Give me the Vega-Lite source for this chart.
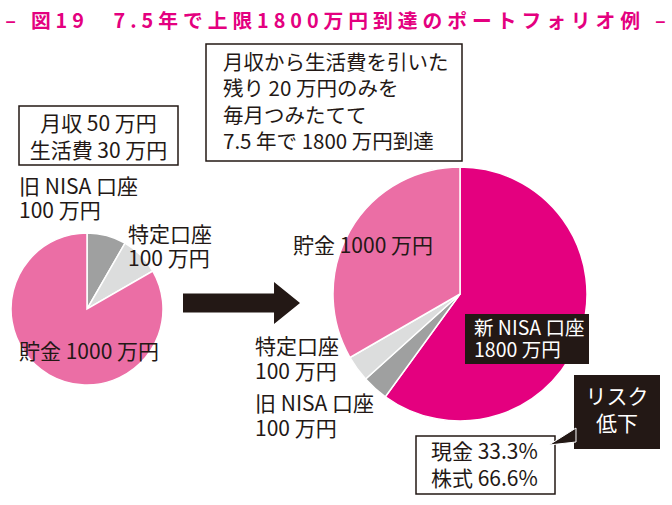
{
  "$schema": "https://vega.github.io/schema/vega-lite/v6.json",
  "width": 672,
  "height": 505,
  "padding": 0,
  "autosize": {"type": "fit", "contains": "padding"},
  "background": "white",
  "config": {"view": {"stroke": null}, "font": "Noto Sans CJK JP"},
  "datasets": {
    "pies": [
      {"pie": "before", "category": "旧NISA口座", "value": 100, "order": 1},
      {"pie": "before", "category": "特定口座", "value": 100, "order": 2},
      {"pie": "before", "category": "貯金", "value": 1000, "order": 3},
      {"pie": "after", "category": "新NISA口座", "value": 1800, "order": 1},
      {"pie": "after", "category": "旧NISA口座", "value": 100, "order": 2},
      {"pie": "after", "category": "特定口座", "value": 100, "order": 3},
      {"pie": "after", "category": "貯金", "value": 1000, "order": 4}
    ],
    "notes": [
      {"id": "title", "text": "–\u2005\u2005\u2005図\u20051\u20059\u3000\u2005\u20057\u2005.\u20055\u2005年\u2005で\u2005上\u2005限\u20051\u20058\u20050\u20050\u2005万\u2005円\u2005到\u2005達\u2005の\u2005ポ\u2005ー\u2005ト\u2005フ\u2005ォ\u2005リ\u2005オ\u2005例\u2005\u2005\u2005–"},
      {"id": "income", "text": "月収 50 万円\n生活費 30 万円"},
      {"id": "plan", "text": "月収から生活費を引いた\n残り 20 万円のみを\n毎月つみたてて\n7.5 年で 1800 万円到達"},
      {"id": "b_old", "text": "旧 NISA 口座\n100 万円"},
      {"id": "b_tok", "text": "特定口座\n100 万円"},
      {"id": "b_sav", "text": "貯金 1000 万円"},
      {"id": "a_sav", "text": "貯金 1000 万円"},
      {"id": "a_tok", "text": "特定口座\n100 万円"},
      {"id": "a_old", "text": "旧 NISA 口座\n100 万円"},
      {"id": "a_new", "text": "新 NISA 口座\n1800 万円"},
      {"id": "risk", "text": "リスク\n低下"},
      {"id": "mix", "text": "現金 33.3%\n株式 66.6%"}
    ],
    "one": [{"k": 1}]
  },
  "layer": [
    {
      "data": {"name": "pies"},
      "transform": [{"filter": "datum.pie === 'before'"}],
      "mark": {"type": "arc", "x": 86, "y": 308, "outerRadius": 76, "stroke": "white", "strokeWidth": 1.5},
      "encoding": {
        "theta": {"field": "value", "type": "quantitative", "stack": true},
        "color": {"field": "category", "type": "nominal", "legend": null,
          "scale": {"domain": ["新NISA口座", "旧NISA口座", "特定口座", "貯金"], "range": ["#E4007F", "#9FA0A0", "#DCDDDD", "#EB6EA5"]}},
        "order": {"field": "order", "type": "quantitative"}
      }
    },
    {
      "data": {"name": "pies"},
      "transform": [{"filter": "datum.pie === 'after'"}],
      "mark": {"type": "arc", "x": 459, "y": 293, "outerRadius": 127, "stroke": "white", "strokeWidth": 1.5},
      "encoding": {
        "theta": {"field": "value", "type": "quantitative", "stack": true},
        "color": {"field": "category", "type": "nominal", "legend": null,
          "scale": {"domain": ["新NISA口座", "旧NISA口座", "特定口座", "貯金"], "range": ["#E4007F", "#9FA0A0", "#DCDDDD", "#EB6EA5"]}},
        "order": {"field": "order", "type": "quantitative"}
      }
    },
    {
      "data": {"name": "one"},
      "mark": {"type": "point", "x": 240.5, "y": 302, "size": 13689, "filled": true, "opacity": 1, "color": "#231815", "strokeWidth": 0,
        "shape": "M -1 -0.162 L 0.556 -0.162 L 0.556 -0.359 L 1 0 L 0.556 0.359 L 0.556 0.162 L -1 0.162 Z"},
      "encoding": {}
    },
    {
      "data": {"name": "one"},
      "mark": {"type": "rule", "x": 252, "y": 160, "y2": 293, "color": "#231815", "strokeWidth": 1.5},
      "encoding": {}
    },
    {
      "data": {"name": "one"},
      "mark": {"type": "rule", "x": 103.5, "y": 221, "y2": 237, "color": "#231815", "strokeWidth": 1.5},
      "encoding": {}
    },
    {
      "data": {"name": "one"},
      "mark": {"type": "rect", "x": 18, "y": 105, "x2": 177, "y2": 164, "fill": "white", "stroke": "#231815", "strokeWidth": 1.5},
      "encoding": {}
    },
    {
      "data": {"name": "one"},
      "mark": {"type": "rect", "x": 205, "y": 43, "x2": 461, "y2": 160, "fill": "white", "stroke": "#231815", "strokeWidth": 1.5},
      "encoding": {}
    },
    {
      "data": {"name": "one"},
      "mark": {"type": "rect", "x": 464, "y": 313, "x2": 588, "y2": 363, "fill": "#231815", "strokeWidth": 0},
      "encoding": {}
    },
    {
      "data": {"name": "one"},
      "mark": {"type": "rect", "x": 573, "y": 374, "x2": 659, "y2": 448, "fill": "#231815", "strokeWidth": 0},
      "encoding": {}
    },
    {
      "data": {"name": "one"},
      "mark": {"type": "rect", "x": 415, "y": 435, "x2": 554, "y2": 493, "fill": "white", "stroke": "#231815", "strokeWidth": 1.5},
      "encoding": {}
    },
    {
      "data": {"name": "one"},
      "mark": {"type": "point", "x": 561, "y": 435, "size": 900, "filled": true, "opacity": 1, "fill": "#231815", "stroke": "white", "strokeWidth": 1,
        "shape": "M 0.933 -0.533 L -0.867 0.6 L 0.933 0.4 Z"},
      "encoding": {}
    },
    {
      "data": {"name": "notes"},
      "transform": [{"filter": "datum.id === 'title'"}],
      "mark": {"type": "text", "x": 334.5, "y": 27, "align": "center", "baseline": "alphabetic", "fontSize": 19.8, "fontWeight": "bold", "color": "#E4007F"},
      "encoding": {"text": {"field": "text", "type": "nominal"}}
    },
    {
      "data": {"name": "notes"},
      "transform": [{"filter": "datum.id === 'income'"}],
      "mark": {"type": "text", "x": 97.5, "y": 129.5, "align": "center", "baseline": "alphabetic", "fontSize": 21, "lineHeight": 27, "lineBreak": "\n", "color": "#231815"},
      "encoding": {"text": {"field": "text", "type": "nominal"}}
    },
    {
      "data": {"name": "notes"},
      "transform": [{"filter": "datum.id === 'plan'"}],
      "mark": {"type": "text", "x": 222, "y": 69, "align": "left", "baseline": "alphabetic", "fontSize": 20.5, "lineHeight": 26.3, "lineBreak": "\n", "color": "#231815"},
      "encoding": {"text": {"field": "text", "type": "nominal"}}
    },
    {
      "data": {"name": "notes"},
      "transform": [{"filter": "datum.id === 'b_old'"}],
      "mark": {"type": "text", "x": 18, "y": 192.5, "align": "left", "baseline": "alphabetic", "fontSize": 21, "lineHeight": 24, "lineBreak": "\n", "color": "#231815"},
      "encoding": {"text": {"field": "text", "type": "nominal"}}
    },
    {
      "data": {"name": "notes"},
      "transform": [{"filter": "datum.id === 'b_tok'"}],
      "mark": {"type": "text", "x": 127, "y": 241, "align": "left", "baseline": "alphabetic", "fontSize": 21, "lineHeight": 24, "lineBreak": "\n", "color": "#231815"},
      "encoding": {"text": {"field": "text", "type": "nominal"}}
    },
    {
      "data": {"name": "notes"},
      "transform": [{"filter": "datum.id === 'b_sav'"}],
      "mark": {"type": "text", "x": 18, "y": 358, "align": "left", "baseline": "alphabetic", "fontSize": 21, "color": "#231815"},
      "encoding": {"text": {"field": "text", "type": "nominal"}}
    },
    {
      "data": {"name": "notes"},
      "transform": [{"filter": "datum.id === 'a_sav'"}],
      "mark": {"type": "text", "x": 292, "y": 252, "align": "left", "baseline": "alphabetic", "fontSize": 21, "color": "#231815"},
      "encoding": {"text": {"field": "text", "type": "nominal"}}
    },
    {
      "data": {"name": "notes"},
      "transform": [{"filter": "datum.id === 'a_tok'"}],
      "mark": {"type": "text", "x": 254, "y": 353, "align": "left", "baseline": "alphabetic", "fontSize": 21, "lineHeight": 25, "lineBreak": "\n", "color": "#231815"},
      "encoding": {"text": {"field": "text", "type": "nominal"}}
    },
    {
      "data": {"name": "notes"},
      "transform": [{"filter": "datum.id === 'a_old'"}],
      "mark": {"type": "text", "x": 254, "y": 410, "align": "left", "baseline": "alphabetic", "fontSize": 21, "lineHeight": 25, "lineBreak": "\n", "color": "#231815"},
      "encoding": {"text": {"field": "text", "type": "nominal"}}
    },
    {
      "data": {"name": "notes"},
      "transform": [{"filter": "datum.id === 'a_new'"}],
      "mark": {"type": "text", "x": 473, "y": 334, "align": "left", "baseline": "alphabetic", "fontSize": 19.5, "lineHeight": 22, "lineBreak": "\n", "color": "white"},
      "encoding": {"text": {"field": "text", "type": "nominal"}}
    },
    {
      "data": {"name": "notes"},
      "transform": [{"filter": "datum.id === 'risk'"}],
      "mark": {"type": "text", "x": 616, "y": 403, "align": "center", "baseline": "alphabetic", "fontSize": 21, "lineHeight": 27, "lineBreak": "\n", "color": "white"},
      "encoding": {"text": {"field": "text", "type": "nominal"}}
    },
    {
      "data": {"name": "notes"},
      "transform": [{"filter": "datum.id === 'mix'"}],
      "mark": {"type": "text", "x": 430, "y": 458, "align": "left", "baseline": "alphabetic", "fontSize": 21, "lineHeight": 27, "lineBreak": "\n", "color": "#231815"},
      "encoding": {"text": {"field": "text", "type": "nominal"}}
    }
  ],
  "resolve": {"scale": {"theta": "independent"}}
}
